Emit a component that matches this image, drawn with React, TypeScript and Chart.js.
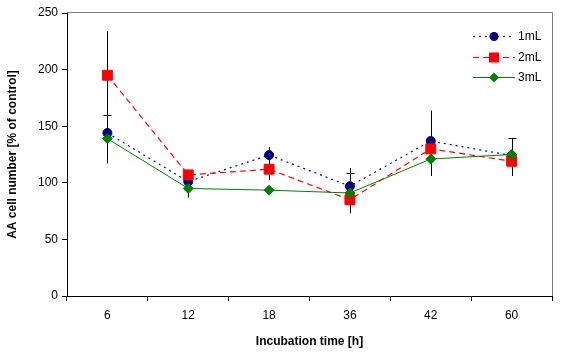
import React, { useEffect, useRef } from 'react';
import { Chart, registerables } from 'chart.js';

Chart.register(...registerables);

const categories = ['6', '12', '18', '36', '42', '60'];
const series1mL = [144, 101, 124.5, 97, 137, 124];
const series2mL = [195, 107, 112, 85, 130, 119];
const series3mL = [139, 95, 93.5, 91, 121, 125];
const err1mL = [16, 0, 7, 16, 27, 0];
const err2mL = [39, 0, 9.5, 0, 0, 13];
const err3mL = [22, 8, 0, 18, 15, 14.5];
const cap1mL = [true, false, false, false, false, false];
const cap2mL = [false, false, false, false, false, false];
const cap3mL = [false, false, false, true, false, true];
const yTicks = [0, 50, 100, 150, 200, 250];
const seriesNames = ['1mL', '2mL', '3mL'];

const FONT = "'Liberation Sans', Arial, sans-serif";
const NAVY = '#000080';
const RED = '#FF0000';
const GREEN = '#008000';
const DOT = [2, 4];
const DASH = [6, 4];

const errorSets = [
  { vals: series1mL, errs: err1mL, caps: cap1mL },
  { vals: series2mL, errs: err2mL, caps: cap2mL },
  { vals: series3mL, errs: err3mL, caps: cap3mL },
];

const framePlugin = {
  id: 'frame',
  beforeDatasetsDraw(chart: any) {
    const { ctx, chartArea } = chart;
    ctx.save();
    ctx.strokeStyle = '#808080';
    ctx.lineWidth = 1;
    ctx.beginPath();
    ctx.moveTo(chartArea.left, Math.round(chartArea.top) - 0.5);
    ctx.lineTo(Math.round(chartArea.right) + 0.5, Math.round(chartArea.top) - 0.5);
    ctx.lineTo(Math.round(chartArea.right) + 0.5, chartArea.bottom);
    ctx.stroke();
    ctx.restore();
  },
};

const errorBarPlugin = {
  id: 'errorBars',
  beforeDatasetsDraw(chart: any) {
    const { ctx } = chart;
    const x = chart.scales.x;
    const y = chart.scales.y;
    ctx.save();
    ctx.strokeStyle = '#000';
    ctx.lineWidth = 1;
    errorSets.forEach(({ vals, errs, caps }) => {
      vals.forEach((v, i) => {
        const e = errs[i];
        if (!e) return;
        const px = Math.round(x.getPixelForValue(i)) + 0.5;
        const yt = y.getPixelForValue(v + e);
        const yb = y.getPixelForValue(v - e);
        ctx.beginPath();
        ctx.moveTo(px, yt);
        ctx.lineTo(px, yb);
        ctx.stroke();
        if (caps[i]) {
          const yy = Math.round(yt) + 0.5;
          ctx.beginPath();
          ctx.moveTo(px - 4, yy);
          ctx.lineTo(px + 4, yy);
          ctx.stroke();
        }
      });
    });
    ctx.restore();
  },
};

const legendPlugin = {
  id: 'customLegend',
  afterDraw(chart: any) {
    const { ctx, chartArea } = chart;
    const x0 = chartArea.right - 79;
    const x1 = chartArea.right - 37;
    const mx = (x0 + x1) / 2;
    const rows = [
      { name: seriesNames[0], color: NAVY, dash: DOT, width: 1.2, shape: 'circle' },
      { name: seriesNames[1], color: RED, dash: DASH, width: 1.2, shape: 'square' },
      { name: seriesNames[2], color: GREEN, dash: [], width: 1, shape: 'diamond' },
    ];
    ctx.save();
    rows.forEach((r, i) => {
      const yy = Math.round(chartArea.top + 23 + i * 20.5) + 0.5;
      ctx.strokeStyle = r.color;
      ctx.lineWidth = r.width;
      ctx.setLineDash(r.dash);
      ctx.beginPath();
      ctx.moveTo(x0, yy);
      ctx.lineTo(x1, yy);
      ctx.stroke();
      ctx.setLineDash([]);
      ctx.fillStyle = r.color;
      ctx.beginPath();
      if (r.shape === 'circle') {
        ctx.arc(mx, yy, 4.5, 0, Math.PI * 2);
      } else if (r.shape === 'square') {
        ctx.rect(mx - 5, yy - 5, 10, 10);
      } else {
        ctx.moveTo(mx - 5, yy);
        ctx.lineTo(mx, yy - 5);
        ctx.lineTo(mx + 5, yy);
        ctx.lineTo(mx, yy + 5);
        ctx.closePath();
      }
      ctx.fill();
      ctx.fillStyle = '#000';
      ctx.font = `12px ${FONT}`;
      ctx.textAlign = 'left';
      ctx.textBaseline = 'middle';
      ctx.fillText(r.name, x1 + 3, yy);
    });
    ctx.restore();
  },
};

export default function App() {
  const ref = useRef<HTMLCanvasElement | null>(null);

  useEffect(() => {
    if (!ref.current) return;
    const chart = new Chart(ref.current, {
      type: 'line',
      data: {
        labels: categories,
        datasets: [
          {
            label: seriesNames[0],
            data: series1mL,
            borderColor: NAVY,
            backgroundColor: NAVY,
            borderWidth: 1.2,
            borderDash: DOT,
            pointStyle: 'circle',
            pointRadius: 4.5,
            pointBorderWidth: 1,
            tension: 0,
            order: 3,
          },
          {
            label: seriesNames[1],
            data: series2mL,
            borderColor: RED,
            backgroundColor: RED,
            borderWidth: 1.2,
            borderDash: DASH,
            pointStyle: 'rect',
            pointRadius: 7,
            pointBorderWidth: 1,
            tension: 0,
            order: 2,
          },
          {
            label: seriesNames[2],
            data: series3mL,
            borderColor: GREEN,
            backgroundColor: GREEN,
            borderWidth: 1,
            pointStyle: 'rectRot',
            pointRadius: 5,
            pointBorderWidth: 1,
            tension: 0,
            order: 1,
          },
        ],
      },
      options: {
        responsive: false,
        animation: false,
        events: [],
        layout: { padding: { top: 13, right: 14, left: 0, bottom: 0 } },
        plugins: {
          legend: { display: false },
          tooltip: { enabled: false },
        },
        scales: {
          x: {
            type: 'category',
            offset: true,
            afterFit: (s: any) => {
              s.height = 56;
            },
            grid: {
              offset: true,
              drawOnChartArea: false,
              drawTicks: true,
              tickLength: 5,
              color: '#000',
            },
            border: { color: '#000', width: 1 },
            ticks: {
              color: '#000',
              padding: 7,
              font: { family: FONT, size: 12 },
              maxRotation: 0,
            },
            title: {
              display: true,
              text: 'Incubation time [h]',
              color: '#000',
              font: { family: FONT, size: 12, weight: 'bold' },
              padding: { top: 0, bottom: 3 },
            },
          },
          y: {
            min: 0,
            max: 250,
            afterFit: (s: any) => {
              s.width = 67;
            },
            afterBuildTicks: (s: any) => {
              s.ticks = yTicks.map((v) => ({ value: v }));
            },
            grid: {
              drawOnChartArea: false,
              drawTicks: true,
              tickLength: 5,
              color: '#000',
            },
            border: { color: '#000', width: 1 },
            ticks: {
              color: '#000',
              padding: 4,
              font: { family: FONT, size: 12 },
            },
            title: {
              display: true,
              text: 'AA cell number [% of control]',
              color: '#000',
              font: { family: FONT, size: 12, weight: 'bold' },
              padding: { top: 5, bottom: 0 },
            },
          },
        },
      },
      plugins: [framePlugin, errorBarPlugin, legendPlugin],
    });
    return () => chart.destroy();
  }, []);

  return (
    <div style={{ position: 'absolute', left: 0, top: 0, width: 566, height: 352, background: '#fff' }}>
      <canvas ref={ref} width={566} height={352} />
    </div>
  );
}
